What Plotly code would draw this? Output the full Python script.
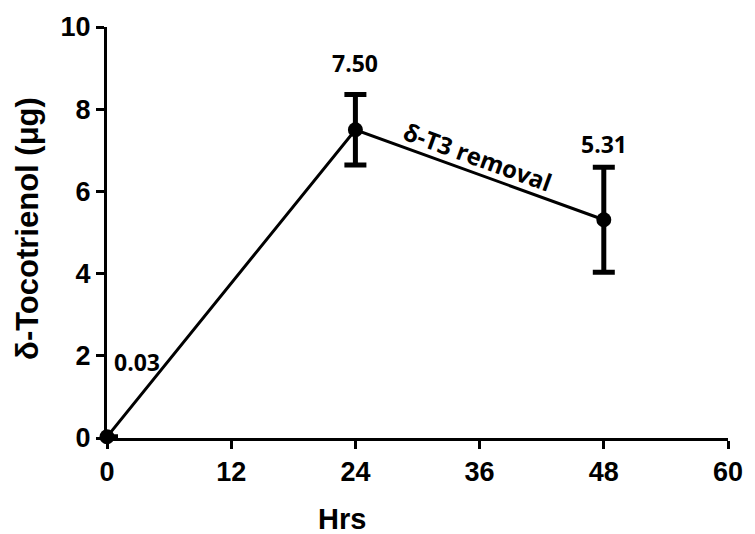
import plotly.graph_objects as go

hours = [0, 24, 48]
toco = [0.03, 7.50, 5.31]
err = [0.0, 0.86, 1.28]
x_ticks = [0, 12, 24, 36, 48, 60]
y_ticks = [0, 2, 4, 6, 8, 10]
note_text = "δ-T3 removal"

W, H = 755, 534
L, R, T, B = 107, 19, 20, 96

fig = go.Figure()
fig.add_trace(go.Scatter(
    x=hours, y=toco, mode="lines+markers",
    line=dict(color="black", width=3),
    marker=dict(color="black", size=15),
    error_y=dict(type="data", array=err, visible=True, color="black", thickness=5, width=11),
    showlegend=False, cliponaxis=False,
))

# value labels
label_shift = [(30, 75), (0, 67), (0, 76)]
for xv, yv, (dx, dy) in zip(hours, toco, label_shift):
    fig.add_annotation(x=xv, y=yv, text=f"{yv:.2f}", showarrow=False,
                       xshift=dx, yshift=dy,
                       font=dict(family="Open Sans", size=23, color="black", weight="bold"))

fig.add_annotation(x=35.8, y=6.84, text=note_text, showarrow=False, textangle=20,
                   font=dict(family="Open Sans", size=24, color="black", weight="bold"))

fig.add_annotation(xref="paper", yref="paper", x=0.378, y=-0.198, text="Hrs", showarrow=False,
                   xanchor="center", yanchor="middle",
                   font=dict(family="Liberation Sans", size=29, color="black", weight="bold"))
fig.add_annotation(xref="paper", yref="paper", x=-0.128, y=0.51, text="δ-Tocotrienol (μg)",
                   showarrow=False, textangle=-90, xanchor="center", yanchor="middle",
                   font=dict(family="Liberation Sans", size=31, color="black", weight="bold"))

axis_common = dict(showgrid=False, zeroline=False, showline=True, linecolor="black", linewidth=3,
                   ticks="outside", ticklen=8, tickwidth=3, tickcolor="black",
                   tickfont=dict(family="Liberation Sans", size=27, color="black", weight="bold"))
fig.update_xaxes(range=[0, 60], tickvals=x_ticks, ticktext=[str(v) for v in x_ticks], **axis_common)
fig.update_yaxes(range=[0, 10], tickvals=y_ticks, ticktext=[str(v) for v in y_ticks], **axis_common)

fig.update_layout(width=W, height=H, margin=dict(l=L, r=R, t=T, b=B),
                  plot_bgcolor="white", paper_bgcolor="white")
fig.write_html("out.html")
